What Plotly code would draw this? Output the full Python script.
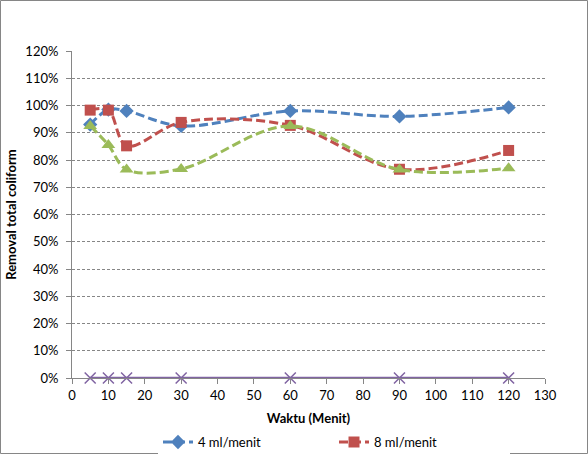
import plotly.graph_objects as go

waktu = [5, 10, 15, 30, 60, 90, 120]
s4 = [0.93, 0.985, 0.98, 0.925, 0.98, 0.96, 0.993]
s8 = [0.983, 0.983, 0.852, 0.938, 0.927, 0.766, 0.835]
s12 = [0.925, 0.855, 0.765, 0.767, 0.925, 0.765, 0.77]
s0 = [0, 0, 0, 0, 0, 0, 0]
names = ["4 ml/menit", "8 ml/menit", "12 ml/menit", "kontrol"]

font = "Lato"
dash = "9px,4px"
fig = go.Figure()
fig.add_trace(go.Scatter(x=waktu, y=s4, name=names[0], mode="lines+markers", cliponaxis=False,
                         line=dict(color="#4F81BD", width=3, dash=dash, shape="spline"),
                         marker=dict(symbol="diamond", size=11, color="#4F81BD")))
fig.add_trace(go.Scatter(x=waktu, y=s8, name=names[1], mode="lines+markers", cliponaxis=False,
                         line=dict(color="#C0504D", width=3, dash=dash, shape="spline"),
                         marker=dict(symbol="square", size=11, color="#C0504D")))
fig.add_trace(go.Scatter(x=waktu, y=s12, name=names[2], mode="lines+markers", showlegend=False,
                         cliponaxis=False,
                         line=dict(color="#9BBB59", width=3, dash=dash, shape="spline"),
                         marker=dict(symbol="triangle-up", size=12, color="#9BBB59")))
fig.add_trace(go.Scatter(x=waktu, y=s0, name=names[3], mode="lines+markers", showlegend=False,
                         cliponaxis=False,
                         line=dict(color="#8064A2", width=2.5),
                         marker=dict(symbol="x-thin", size=11, line=dict(color="#8064A2", width=1.5))))

W, H = 588, 454
l, r, t, b = 72, 43, 51, 76
pw, ph = W - l - r, H - t - b
fig.update_layout(
    width=W, height=H, margin=dict(l=l, r=r, t=t, b=b, autoexpand=False),
    paper_bgcolor="white", plot_bgcolor="white",
    font=dict(family=font, size=13, color="#000"),
    xaxis=dict(range=[0, 130], tickmode="linear", tick0=0, dtick=10, showgrid=False,
               showline=True, linecolor="#868686", ticks="outside", tickcolor="#868686", ticklen=5,
               zeroline=False, automargin=False,
               title=dict(text="<b>Waktu (Menit)</b>", font=dict(size=13), standoff=12)),
    yaxis=dict(range=[0, 1.2], tickmode="linear", tick0=0, dtick=0.1, tickformat=".0%",
               showgrid=True, gridcolor="#868686", griddash="3px,2px", gridwidth=1,
               showline=True, linecolor="#868686", ticks="outside", tickcolor="#868686", ticklen=5,
               ticklabelstandoff=5,
               zeroline=False, automargin=False,
               title=dict(text="<b>Removal total coliform</b>", font=dict(size=13), standoff=5)),
    legend=dict(orientation="h", x=(158 - l) / pw, xanchor="left", y=-0.15, yanchor="top",
                font=dict(size=13), itemwidth=30, entrywidth=131, tracegroupgap=0),
    shapes=[dict(type="rect", xref="paper", yref="paper",
                 x0=-(l - 0.5) / pw, x1=(W - l - 0.5) / pw,
                 y0=-(b - 0.5) / ph, y1=(H - b - 0.5) / ph,
                 line=dict(color="#868686", width=1))],
)
fig.write_html("out.html", post_script="document.body.style.margin='0';",
               config={"displayModeBar": False})
